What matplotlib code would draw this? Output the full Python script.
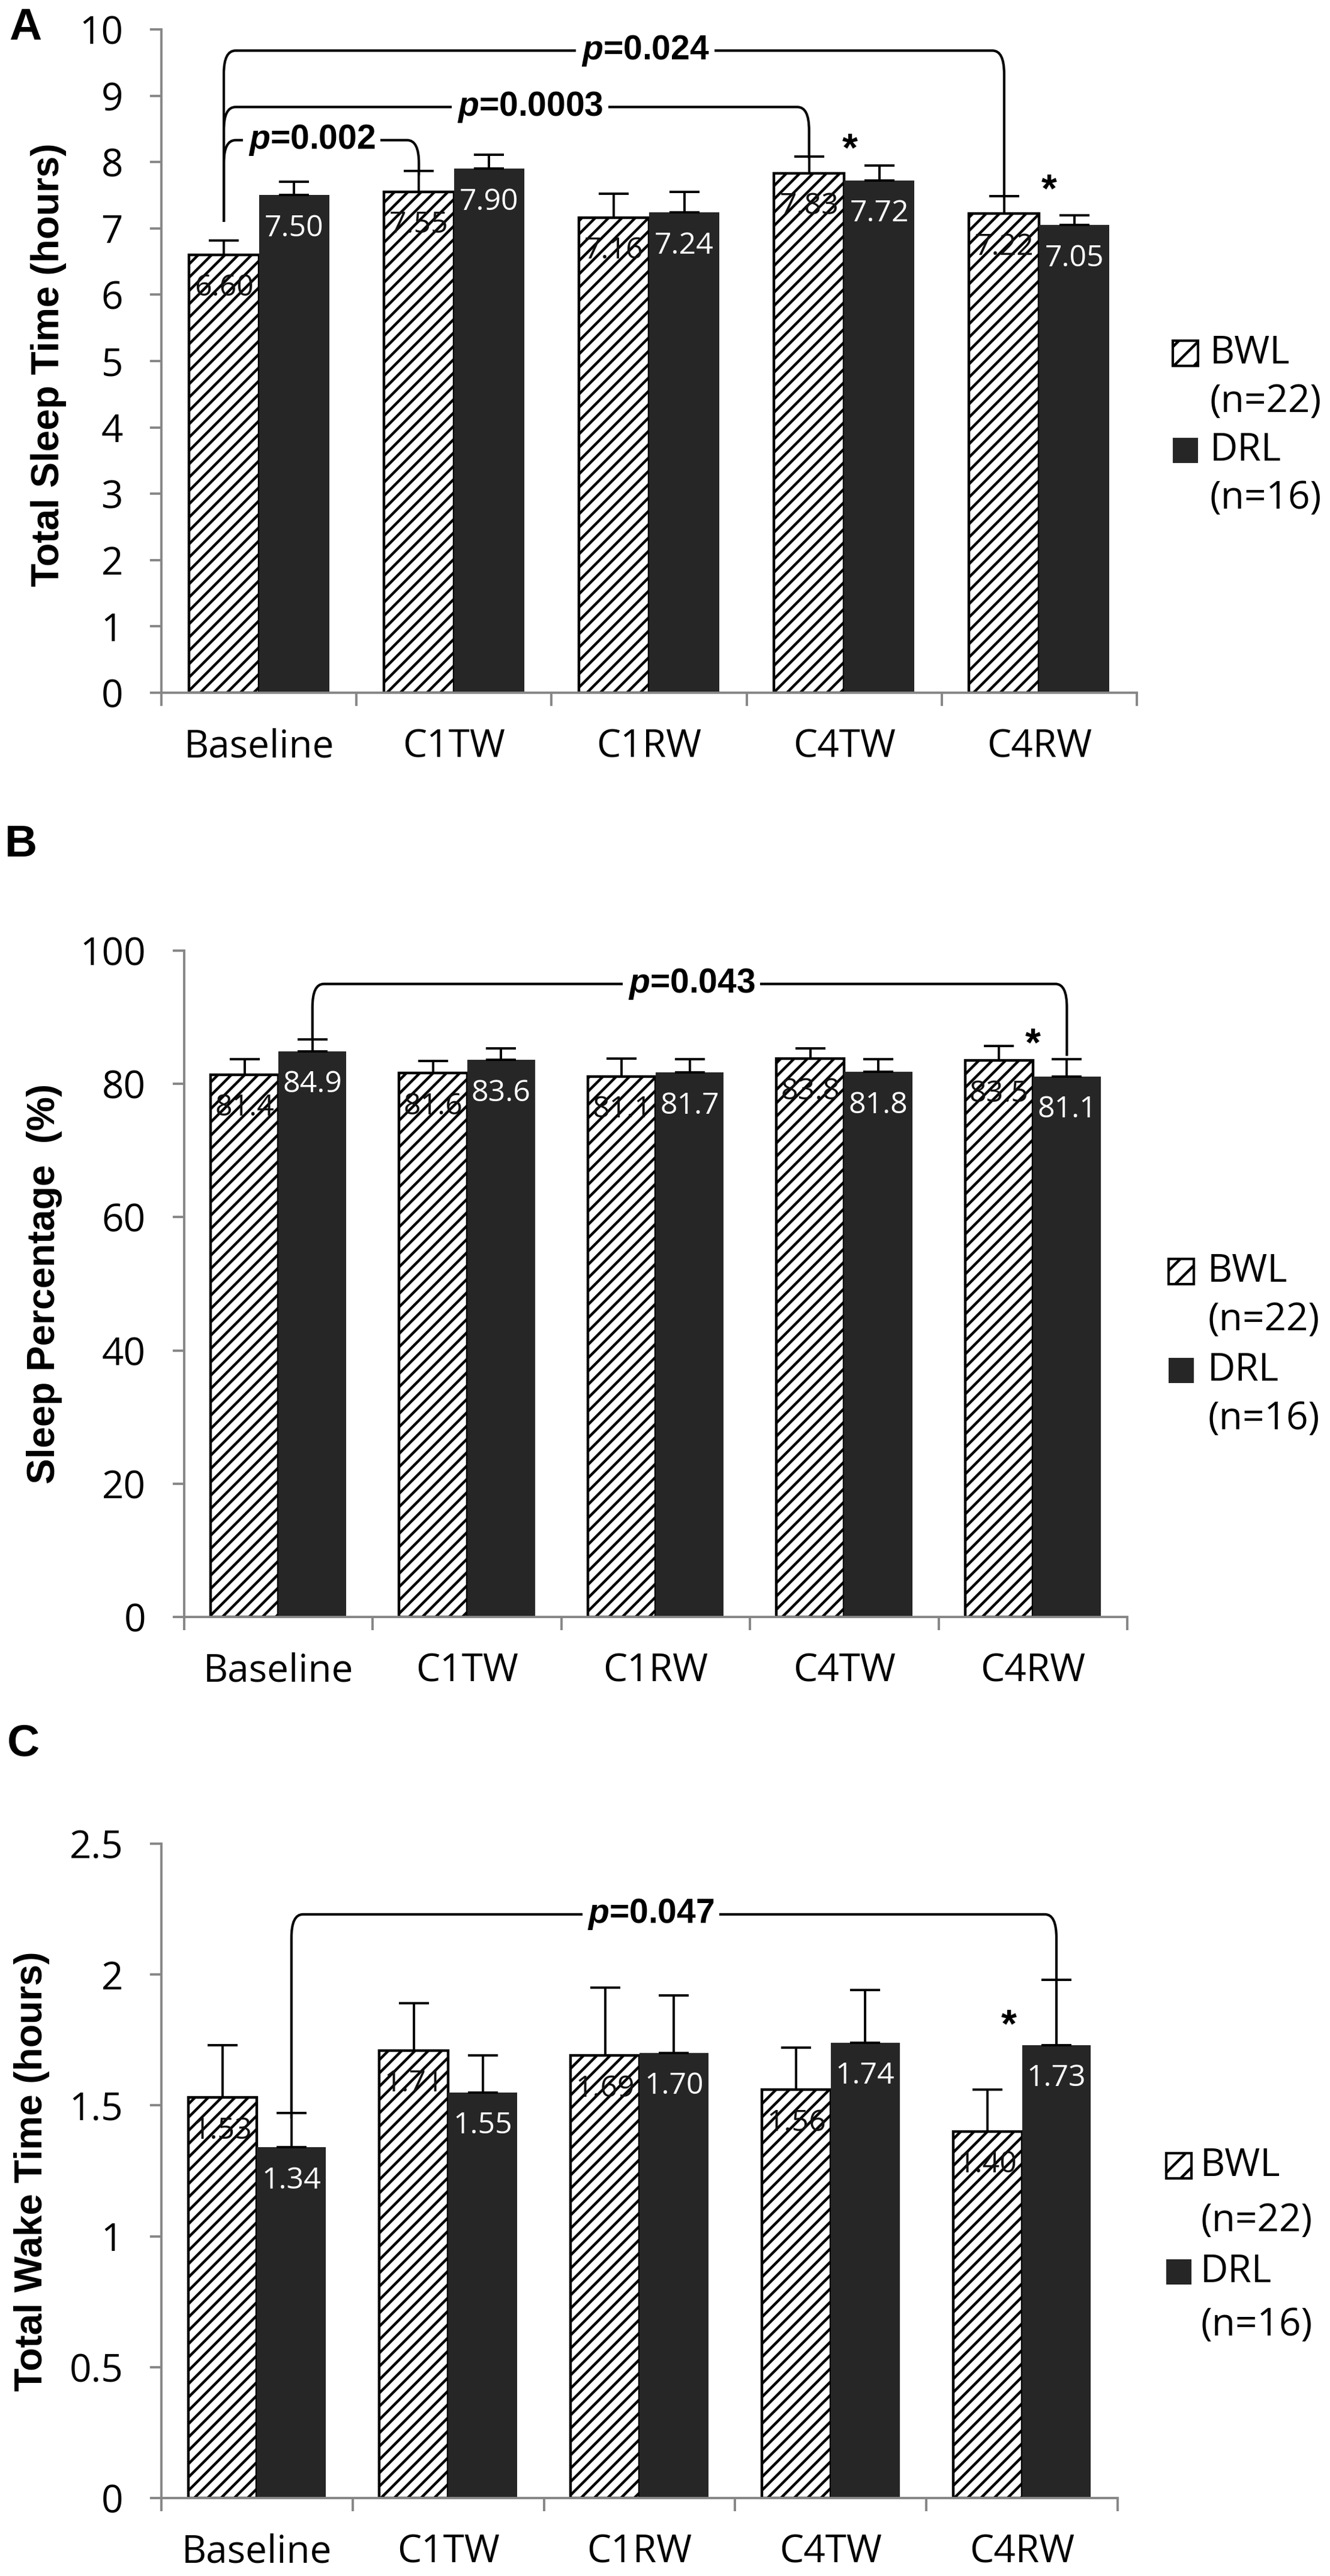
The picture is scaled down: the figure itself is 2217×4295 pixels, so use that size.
import numpy as np
import matplotlib
matplotlib.use("Agg")
import matplotlib.pyplot as plt
from matplotlib.patches import Rectangle, PathPatch
from matplotlib.path import Path
from matplotlib.ticker import FuncFormatter

# ---- data ----
categories = ["Baseline", "C1TW", "C1RW", "C4TW", "C4RW"]

tst_bwl = [6.60, 7.55, 7.16, 7.83, 7.22]
tst_bwl_err = [0.22, 0.32, 0.36, 0.25, 0.27]
tst_drl = [7.50, 7.90, 7.24, 7.72, 7.05]
tst_drl_err = [0.20, 0.21, 0.31, 0.23, 0.15]

sp_bwl = [81.4, 81.6, 81.1, 83.8, 83.5]
sp_bwl_err = [2.3, 1.8, 2.7, 1.5, 2.2]
sp_drl = [84.9, 83.6, 81.7, 81.8, 81.1]
sp_drl_err = [1.8, 1.7, 2.0, 1.9, 2.6]

twt_bwl = [1.53, 1.71, 1.69, 1.56, 1.40]
twt_bwl_err = [0.20, 0.18, 0.26, 0.16, 0.16]
twt_drl = [1.34, 1.55, 1.70, 1.74, 1.73]
twt_drl_err = [0.13, 0.14, 0.22, 0.20, 0.25]

# brackets: (left cat, left group, y start, right cat, right group, y end, y top, label, label x)
brackets_a = [(0, "BWL", 7.10, 1, "BWL", 7.80, 8.33, "$p$=0.002", 0.27),
              (0, "BWL", 7.10, 3, "BWL", 8.05, 8.83, "$p$=0.0003", 1.39),
              (0, "BWL", 7.10, 4, "BWL", 7.45, 9.68, "$p$=0.024", 1.98)]
brackets_b = [(0, "DRL", 86.8, 4, "DRL", 84.2, 95.0, "$p$=0.043", 2.19)]
brackets_c = [(0, "DRL", 1.45, 4, "DRL", 1.73, 2.23, "$p$=0.047", 2.06)]

stars_a = [(3.03, 8.17), (4.05, 7.56)]
stars_b = [(4.0, 85.8)]
stars_c = [(3.93, 1.80)]

legend_labels = ["BWL", "(n=22)", "DRL", "(n=16)"]

# ---- styling ----
W, H = 2217, 4295
DPI = 200
plt.rcParams["hatch.linewidth"] = 1.6
plt.rcParams["mathtext.fontset"] = "custom"
plt.rcParams["mathtext.it"] = "Liberation Sans:italic:bold"
plt.rcParams["mathtext.rm"] = "Liberation Sans:bold"

DARK = "#262626"
AXGRAY = "#868686"
BW = 0.36
OFF = {"BWL": -BW / 2, "DRL": BW / 2}


def fx(px):
    return px / W


def fy(py):
    return 1 - py / H


fig = plt.figure(figsize=(W / DPI, H / DPI), dpi=DPI)
fig.patch.set_facecolor("white")


def bracket(ax, xl, yl, xr, yr, ytop, rx, ry):
    verts = [(xl, yl), (xl, ytop - ry), (xl, ytop), (xl + rx, ytop),
             (xr - rx, ytop), (xr, ytop), (xr, ytop - ry), (xr, yr)]
    codes = [Path.MOVETO, Path.LINETO, Path.CURVE3, Path.CURVE3,
             Path.LINETO, Path.CURVE3, Path.CURVE3, Path.LINETO]
    ax.add_patch(PathPatch(Path(verts, codes), fill=False, lw=1.5,
                           edgecolor="black", zorder=6, clip_on=False))


def panel(box, bwl, bwl_err, drl, drl_err, ymax, ystep, fmt, ylabel,
          ylabel_px, letter, letter_px, brackets, stars, legend_px, ry):
    l, r, t, b = box
    ax = fig.add_axes([fx(l), fy(b), fx(r) - fx(l), fy(t) - fy(b)])
    x = np.arange(len(categories))
    ax.bar(x + OFF["BWL"], bwl, BW, facecolor="white", edgecolor="black",
           hatch="///", linewidth=1.6, zorder=2)
    ax.bar(x + OFF["DRL"], drl, BW, facecolor=DARK, edgecolor=DARK,
           linewidth=0, zorder=2)
    ax.errorbar(x + OFF["BWL"], bwl, yerr=[np.zeros(5), bwl_err], fmt="none",
                ecolor="black", elinewidth=1.4, capsize=9, capthick=1.4, zorder=4)
    ax.errorbar(x + OFF["DRL"], drl, yerr=[np.zeros(5), drl_err], fmt="none",
                ecolor="black", elinewidth=1.4, capsize=9, capthick=1.4, zorder=4)
    for xi, v in zip(x, bwl):
        ax.annotate(fmt % v, (xi + OFF["BWL"], v), xytext=(0, -20),
                    textcoords="offset points", ha="center", va="center",
                    fontsize=18, family="Open Sans", color="#111111", zorder=5)
    for xi, v in zip(x, drl):
        ax.annotate(fmt % v, (xi + OFF["DRL"], v), xytext=(0, -20),
                    textcoords="offset points", ha="center", va="center",
                    fontsize=18, family="Open Sans", color="white", zorder=5)

    for (ci, gi, y1, cj, gj, y2, ytop, lab, lx) in brackets:
        bracket(ax, ci + OFF[gi], y1, cj + OFF[gj], y2, ytop, 0.06, ry)
        ax.text(lx, ytop, lab, ha="center", va="center", fontsize=20.5,
                family="Liberation Sans", weight="bold", zorder=7,
                bbox=dict(boxstyle="square,pad=0.15", facecolor="white",
                          edgecolor="none"))
    for sx, sy in stars:
        ax.text(sx, sy, "*", ha="center", va="center", fontsize=24,
                family="Liberation Sans", weight="bold", zorder=7)

    ax.set_xlim(-0.5, 4.5)
    ax.set_ylim(0, ymax)
    ax.set_yticks(np.arange(0, ymax + ystep / 2, ystep))
    ax.yaxis.set_major_formatter(FuncFormatter(lambda v, p: "%g" % v))
    ax.set_xticks(np.arange(-0.5, 5, 1))
    ax.set_xticklabels([])
    ax.set_xticks(x, minor=True)
    ax.set_xticklabels(categories, minor=True)
    ax.tick_params(axis="x", which="major", length=8, width=1.4, color=AXGRAY)
    ax.tick_params(axis="x", which="minor", length=0, pad=21, labelsize=23)
    ax.tick_params(axis="y", length=7, width=1.4, color=AXGRAY, pad=16,
                   labelsize=23)
    for lab in ax.get_xticklabels(minor=True) + ax.get_yticklabels():
        lab.set_family("Open Sans")
    for s in ["top", "right"]:
        ax.spines[s].set_visible(False)
    for s in ["left", "bottom"]:
        ax.spines[s].set_color(AXGRAY)
        ax.spines[s].set_linewidth(1.4)

    fig.text(fx(ylabel_px[0]), fy(ylabel_px[1]), ylabel, rotation=90,
             ha="center", va="center", fontsize=23, family="Liberation Sans",
             weight="bold")
    fig.text(fx(letter_px[0]), fy(letter_px[1]), letter, ha="center",
             va="center", fontsize=27, family="Liberation Sans", weight="bold")

    # legend
    bx, tx, ys = legend_px
    for lab, yc in zip(legend_labels, ys):
        fig.text(fx(tx), fy(yc), lab, ha="left", va="center", fontsize=23,
                 family="Open Sans")
    for k, yc in ((0, ys[0]), (2, ys[2])):
        hatched = k == 0
        fig.add_artist(Rectangle((fx(bx), fy(yc + 21)), fx(42), 42 / H,
                                 transform=fig.transFigure,
                                 facecolor="white" if hatched else DARK,
                                 edgecolor="black" if hatched else DARK,
                                 hatch="//" if hatched else None,
                                 linewidth=1.5 if hatched else 0))
    return ax


panel((269, 1895, 49, 1155), tst_bwl, tst_bwl_err, tst_drl, tst_drl_err,
      10, 1, "%.2f", "Total Sleep Time (hours)", (81, 608), "A", (42, 46),
      brackets_a, stars_a, (1955, 2017, [589, 670, 751, 831]), 0.35)
panel((307, 1879, 1585, 2696), sp_bwl, sp_bwl_err, sp_drl, sp_drl_err,
      100, 20, "%.1f", "Sleep Percentage  (%)", (74, 2140), "B", (35, 1408),
      brackets_b, stars_b, (1948, 2013, [2120, 2201, 2285, 2366]), 3.5)
panel((269, 1863, 3074, 4165), twt_bwl, twt_bwl_err, twt_drl, twt_drl_err,
      2.5, 0.5, "%.2f", "Total Wake Time (hours)", (53, 3620), "C", (39, 2908),
      brackets_c, stars_c, (1944, 2001, [3611, 3703, 3788, 3877]), 0.09)

fig.savefig("out.png", dpi=DPI)
